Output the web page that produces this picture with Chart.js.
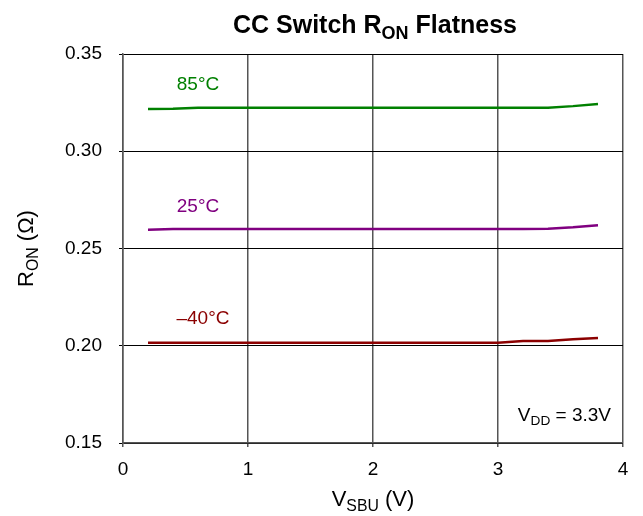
<!DOCTYPE html>
<html>
<head>
<meta charset="utf-8">
<script src="https://cdn.jsdelivr.net/npm/chart.js"></script>
<style>
  html, body { margin: 0; padding: 0; background: #fff; }
  #wrap { width: 643px; height: 516px; }
</style>
</head>
<body>
<div id="wrap"><canvas id="chart" width="643" height="516"></canvas></div>
<script>
// Data
const vsbu = [0.2, 0.4, 0.6, 0.8, 1.0, 1.2, 1.4, 1.6, 1.8, 2.0, 2.2, 2.4, 2.6, 2.8, 3.0, 3.2, 3.4, 3.6, 3.8];
const ron85 = [0.3217, 0.3218, 0.3224, 0.3224, 0.3224, 0.3224, 0.3224, 0.3224, 0.3224, 0.3224, 0.3224, 0.3224, 0.3224, 0.3224, 0.3224, 0.3224, 0.3224, 0.3232, 0.3243];
const ron25 = [0.2596, 0.2600, 0.2600, 0.2600, 0.2600, 0.2600, 0.2600, 0.2600, 0.2600, 0.2600, 0.2600, 0.2600, 0.2600, 0.2600, 0.2600, 0.2600, 0.2601, 0.2609, 0.2620];
const ronM40 = [0.2016, 0.2016, 0.2016, 0.2016, 0.2016, 0.2016, 0.2016, 0.2016, 0.2016, 0.2016, 0.2016, 0.2016, 0.2016, 0.2016, 0.2016, 0.2024, 0.2025, 0.2033, 0.2040];
const xTicks = [0, 1, 2, 3, 4];
const yTicks = [0.15, 0.20, 0.25, 0.30, 0.35];

// Curve labels (data coordinates)
const curveLabels = [
    { text: '85°C', x: 0.6, y: 0.334, color: '#008000' },
    { text: '25°C', x: 0.6, y: 0.2713, color: '#800080' },
    { text: '\u201340°C', x: 0.64, y: 0.2138, color: '#8b0000' }
];

const FONT = '"Liberation Sans", Arial, sans-serif';
const SUB = 0.72;

function toPoints(ys) {
    return vsbu.map((x, i) => ({ x: x, y: ys[i] }));
}

// Draw text made of parts, some of them subscript
function richWidth(ctx, parts, size, weight) {
    let w = 0;
    parts.forEach(p => {
        ctx.font = weight + ' ' + (p.sub ? size * SUB : size) + 'px ' + FONT;
        w += ctx.measureText(p.t).width;
    });
    return w;
}

function drawRich(ctx, parts, x, y, size, weight, align) {
    const total = richWidth(ctx, parts, size, weight);
    let cx = align === 'center' ? x - total / 2 : align === 'right' ? x - total : x;
    ctx.textAlign = 'left';
    ctx.textBaseline = 'alphabetic';
    parts.forEach(p => {
        const s = p.sub ? size * SUB : size;
        ctx.font = weight + ' ' + s + 'px ' + FONT;
        ctx.fillText(p.t, cx, p.sub ? y + size * 0.22 : y);
        cx += ctx.measureText(p.t).width;
    });
}

const textPlugin = {
    id: 'texts',
    afterDraw(chart) {
        const ctx = chart.ctx;
        const xs = chart.scales.x;
        const ys = chart.scales.y;
        const area = chart.chartArea;
        const midX = (area.left + area.right) / 2;
        ctx.save();
        ctx.fillStyle = '#000';

        // Title
        drawRich(ctx, [{ t: 'CC Switch R' }, { t: 'ON', sub: true }, { t: ' Flatness' }], midX + 2, 33, 25, 'bold', 'center');

        // X axis title
        drawRich(ctx, [{ t: 'V' }, { t: 'SBU', sub: true }, { t: ' (V)' }], midX, 506, 22, 'normal', 'center');

        // Y axis title (rotated)
        ctx.save();
        ctx.translate(33, (area.top + area.bottom) / 2);
        ctx.rotate(-Math.PI / 2);
        drawRich(ctx, [{ t: 'R' }, { t: 'ON', sub: true }, { t: ' (\u03A9)' }], 0, 0, 22, 'normal', 'center');
        ctx.restore();

        // Supply note
        drawRich(ctx, [{ t: 'V' }, { t: 'DD', sub: true }, { t: ' = 3.3V' }], area.right - 12, 421, 19, 'normal', 'right');

        // Curve labels
        curveLabels.forEach(l => {
            ctx.fillStyle = l.color;
            ctx.font = '19px ' + FONT;
            ctx.textAlign = 'center';
            ctx.textBaseline = 'middle';
            ctx.fillText(l.text, xs.getPixelForValue(l.x), ys.getPixelForValue(l.y));
        });
        ctx.restore();
    }
};

new Chart(document.getElementById('chart'), {
    type: 'scatter',
    data: {
        datasets: [
            { label: '85°C', data: toPoints(ron85), borderColor: '#008000' },
            { label: '25°C', data: toPoints(ron25), borderColor: '#800080' },
            { label: '-40°C', data: toPoints(ronM40), borderColor: '#8b0000' }
        ].map(d => Object.assign(d, { showLine: true, pointRadius: 0, borderWidth: 2.5, tension: 0 }))
    },
    options: {
        responsive: false,
        animation: false,
        layout: { padding: { left: 0, right: 20, top: 54, bottom: 0 } },
        plugins: {
            legend: { display: false },
            tooltip: { enabled: false }
        },
        scales: {
            x: {
                type: 'linear',
                min: xTicks[0],
                max: xTicks[xTicks.length - 1],
                afterBuildTicks: axis => { axis.ticks = xTicks.map(v => ({ value: v })); },
                afterFit: axis => { axis.height = 73; },
                grid: { color: '#555', lineWidth: 1.5, tickLength: 4 },
                border: { color: '#555', width: 1.5 },
                ticks: {
                    color: '#000',
                    padding: 11,
                    font: { family: FONT, size: 19 },
                    callback: v => String(v)
                }
            },
            y: {
                type: 'linear',
                min: yTicks[0],
                max: yTicks[yTicks.length - 1],
                afterBuildTicks: axis => { axis.ticks = yTicks.map(v => ({ value: v })); },
                afterFit: axis => { axis.width = 123; },
                grid: { color: '#000', lineWidth: 1, tickLength: 4 },
                border: { color: '#555', width: 1.5 },
                ticks: {
                    color: '#000',
                    padding: 17,
                    font: { family: FONT, size: 19 },
                    callback: v => v.toFixed(2)
                }
            }
        }
    },
    plugins: [textPlugin]
});
</script>
</body>
</html>
